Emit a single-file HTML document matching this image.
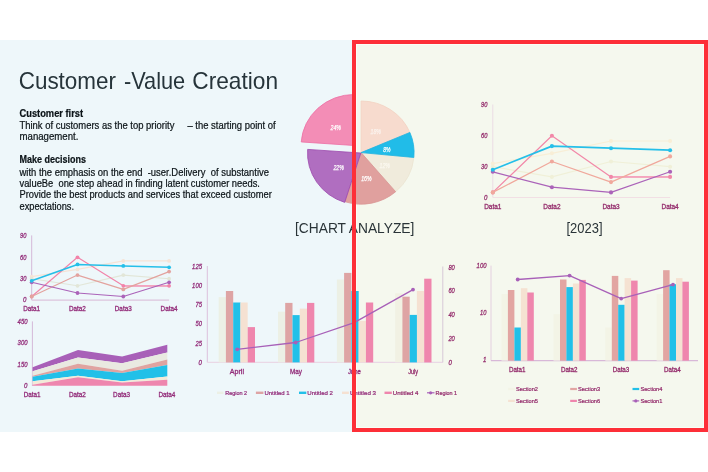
<!DOCTYPE html>
<html><head><meta charset="utf-8"><title>Customer -Value Creation</title>
<style>
html,body{margin:0;padding:0;background:#fff;}
body{width:708px;height:472px;overflow:hidden;font-family:"Liberation Sans",sans-serif;}
svg{display:block;font-family:"Liberation Sans",sans-serif;will-change:transform;}
</style></head><body>
<svg width="708" height="472" viewBox="0 0 708 472">
<rect x="0" y="0" width="708" height="472" fill="#ffffff"/>
<rect x="0" y="40" width="354" height="392" fill="#eef7fa"/>
<rect x="354" y="42" width="352" height="388" fill="#f5f8ee"/>
<rect x="356.5" y="44.5" width="347" height="383" fill="none" stroke="#fafef6" stroke-width="1"/>
<text x="18.7" y="89.0" font-size="24" fill="#26343a" textLength="97.3" lengthAdjust="spacingAndGlyphs">Customer</text>
<text x="123.9" y="89.0" font-size="24" fill="#26343a" textLength="61.3" lengthAdjust="spacingAndGlyphs">-Value</text>
<text x="192.3" y="89.0" font-size="24" fill="#26343a" textLength="85.8" lengthAdjust="spacingAndGlyphs">Creation</text>
<text x="19.5" y="116.6" font-size="10.6" fill="#0c1418" font-weight="bold" textLength="63.6" lengthAdjust="spacingAndGlyphs" stroke="#0c1418" stroke-width="0.22">Customer first</text>
<text x="19.5" y="129.3" font-size="10.6" fill="#0c1418" textLength="256.2" lengthAdjust="spacingAndGlyphs" xml:space="preserve" stroke="#0c1418" stroke-width="0.22">Think of customers as the top priority &#160;&#160;&#160; – the starting point of</text>
<text x="19.5" y="140.3" font-size="10.6" fill="#0c1418" textLength="58.9" lengthAdjust="spacingAndGlyphs" stroke="#0c1418" stroke-width="0.22">management.</text>
<text x="19.5" y="162.9" font-size="10.6" fill="#0c1418" font-weight="bold" textLength="66.4" lengthAdjust="spacingAndGlyphs" stroke="#0c1418" stroke-width="0.22">Make decisions</text>
<text x="19.5" y="175.5" font-size="10.6" fill="#0c1418" textLength="249.5" lengthAdjust="spacingAndGlyphs" xml:space="preserve" stroke="#0c1418" stroke-width="0.22">with the emphasis on the end &#160;-user.Delivery &#160;of substantive</text>
<text x="19.5" y="187.0" font-size="10.6" fill="#0c1418" textLength="240.4" lengthAdjust="spacingAndGlyphs" xml:space="preserve" stroke="#0c1418" stroke-width="0.22">valueBe &#160;one step ahead in finding latent customer needs.</text>
<text x="19.5" y="198.4" font-size="10.6" fill="#0c1418" textLength="252.3" lengthAdjust="spacingAndGlyphs" stroke="#0c1418" stroke-width="0.22">Provide the best products and services that exceed customer</text>
<text x="19.5" y="209.6" font-size="10.6" fill="#0c1418" textLength="54.5" lengthAdjust="spacingAndGlyphs" stroke="#0c1418" stroke-width="0.22">expectations.</text>
<path d="M361.10,152.60 L361.10,101.00 A53.0,51.6 0 0 1 409.89,132.44 Z" fill="#f7dbce" stroke="#f3d2c2" stroke-width="0.8" stroke-linejoin="round"/>
<path d="M361.10,152.60 L413.86,157.46 A53.0,51.6 0 0 1 395.66,191.72 Z" fill="#f0ebdc" stroke="#ebe5d2" stroke-width="0.8" stroke-linejoin="round"/>
<path d="M361.10,152.60 L395.66,191.72 A53.0,51.6 0 0 1 345.07,201.78 Z" fill="#e0a09e" stroke="#d99694" stroke-width="0.8" stroke-linejoin="round"/>
<path d="M361.10,152.60 L409.89,132.44 A53.0,51.6 0 0 1 413.86,157.46 Z" fill="#21bce8" stroke="#1fb4e2" stroke-width="0.8" stroke-linejoin="round"/>
<path d="M360.80,153.00 L344.68,202.38 A53.3,51.800000000000004 0 0 1 307.63,149.39 Z" fill="#b06ec0" stroke="#9c46ac" stroke-width="0.8" stroke-linejoin="round"/>
<path d="M354.10,145.50 L301.23,141.94 A53.0,51.0 0 0 1 354.10,94.50 Z" fill="#f38db6" stroke="#ee6ea4" stroke-width="0.8" stroke-linejoin="round"/>
<text x="330.6" y="129.7" font-size="6.8" fill="#ffffff" font-style="italic" textLength="10.4" lengthAdjust="spacingAndGlyphs" stroke="#ffffff" stroke-width="0.25">24%</text>
<text x="370.6" y="133.9" font-size="6.8" fill="#fbf3ee" font-style="italic" textLength="10.4" lengthAdjust="spacingAndGlyphs" stroke="#fbf3ee" stroke-width="0.25">18%</text>
<text x="383.2" y="151.7" font-size="6.8" fill="#ffffff" font-style="italic" textLength="7.4" lengthAdjust="spacingAndGlyphs" stroke="#ffffff" stroke-width="0.25">8%</text>
<text x="379.5" y="167.8" font-size="6.8" fill="#fbf8f0" font-style="italic" textLength="10.4" lengthAdjust="spacingAndGlyphs" stroke="#fbf8f0" stroke-width="0.25">12%</text>
<text x="361.2" y="181.4" font-size="6.8" fill="#ffffff" font-style="italic" textLength="10.4" lengthAdjust="spacingAndGlyphs" stroke="#ffffff" stroke-width="0.25">16%</text>
<text x="333.4" y="170.0" font-size="6.8" fill="#ffffff" font-style="italic" textLength="10.4" lengthAdjust="spacingAndGlyphs" stroke="#ffffff" stroke-width="0.25">22%</text>
<text x="295.0" y="233.0" font-size="15" fill="#2a3438" textLength="119.3" lengthAdjust="spacingAndGlyphs">[CHART ANALYZE]</text>
<text x="566.5" y="233.0" font-size="15" fill="#2a3438" textLength="36.0" lengthAdjust="spacingAndGlyphs">[2023]</text>
<line x1="31.7" y1="235.4" x2="31.7" y2="300.1" stroke="#d4b8d8" stroke-width="1"/>
<line x1="31.7" y1="300.1" x2="169.1" y2="300.1" stroke="#dcc4dc" stroke-width="1.3"/>
<polyline points="31.7,276.6 77.5,269.4 123.3,260.9 169.1,260.9" fill="none" stroke="#f5e3d6" stroke-width="1.15" stroke-linejoin="round"/>
<circle cx="31.7" cy="276.6" r="1.9" fill="#f5e3d6"/>
<circle cx="77.5" cy="269.4" r="1.9" fill="#f5e3d6"/>
<circle cx="123.3" cy="260.9" r="1.9" fill="#f5e3d6"/>
<circle cx="169.1" cy="260.9" r="1.9" fill="#f5e3d6"/>
<polyline points="31.7,278.7 77.5,285.8 123.3,275.1 169.1,278.7" fill="none" stroke="#e2e6d8" stroke-width="1.15" stroke-linejoin="round"/>
<circle cx="31.7" cy="278.7" r="1.9" fill="#e2e6d8"/>
<circle cx="77.5" cy="285.8" r="1.9" fill="#e2e6d8"/>
<circle cx="123.3" cy="275.1" r="1.9" fill="#e2e6d8"/>
<circle cx="169.1" cy="278.7" r="1.9" fill="#e2e6d8"/>
<polyline points="31.7,296.5 77.5,257.3 123.3,285.8 169.1,285.8" fill="none" stroke="#f283a9" stroke-width="1.15" stroke-linejoin="round"/>
<line x1="123.3" y1="285.8" x2="169.1" y2="285.8" stroke="#f3a4c0" stroke-width="1.72"/>
<circle cx="31.7" cy="296.5" r="1.9" fill="#f283a9"/>
<circle cx="77.5" cy="257.3" r="1.9" fill="#f283a9"/>
<circle cx="123.3" cy="285.8" r="1.9" fill="#f283a9"/>
<circle cx="169.1" cy="285.8" r="1.9" fill="#f283a9"/>
<polyline points="31.7,296.5 77.5,275.1 123.3,289.4 169.1,271.6" fill="none" stroke="#e3a29e" stroke-width="1.15" stroke-linejoin="round"/>
<circle cx="31.7" cy="296.5" r="1.9" fill="#e3a29e"/>
<circle cx="77.5" cy="275.1" r="1.9" fill="#e3a29e"/>
<circle cx="123.3" cy="289.4" r="1.9" fill="#e3a29e"/>
<circle cx="169.1" cy="271.6" r="1.9" fill="#e3a29e"/>
<polyline points="31.7,282.3 77.5,293.0 123.3,296.5 169.1,282.3" fill="none" stroke="#ab63b9" stroke-width="1.15" stroke-linejoin="round"/>
<circle cx="31.7" cy="282.3" r="1.9" fill="#ab63b9"/>
<circle cx="77.5" cy="293.0" r="1.9" fill="#ab63b9"/>
<circle cx="123.3" cy="296.5" r="1.9" fill="#ab63b9"/>
<circle cx="169.1" cy="282.3" r="1.9" fill="#ab63b9"/>
<polyline points="31.7,280.8 77.5,264.4 123.3,265.9 169.1,267.3" fill="none" stroke="#25bfe9" stroke-width="1.55" stroke-linejoin="round"/>
<circle cx="31.7" cy="280.8" r="1.9" fill="#25bfe9"/>
<circle cx="77.5" cy="264.4" r="1.9" fill="#25bfe9"/>
<circle cx="123.3" cy="265.9" r="1.9" fill="#25bfe9"/>
<circle cx="169.1" cy="267.3" r="1.9" fill="#25bfe9"/>
<text x="23.1" y="302.3" font-size="7" fill="#922a78" font-style="italic" textLength="3.4" lengthAdjust="spacingAndGlyphs" stroke="#922a78" stroke-width="0.28">0</text>
<text x="20.1" y="280.9" font-size="7" fill="#922a78" font-style="italic" textLength="6.4" lengthAdjust="spacingAndGlyphs" stroke="#922a78" stroke-width="0.28">30</text>
<text x="20.1" y="259.5" font-size="7" fill="#922a78" font-style="italic" textLength="6.4" lengthAdjust="spacingAndGlyphs" stroke="#922a78" stroke-width="0.28">60</text>
<text x="20.1" y="238.1" font-size="7" fill="#922a78" font-style="italic" textLength="6.4" lengthAdjust="spacingAndGlyphs" stroke="#922a78" stroke-width="0.28">90</text>
<text x="23.2" y="311.2" font-size="7.3" fill="#922a78" textLength="16.9" lengthAdjust="spacingAndGlyphs" stroke="#922a78" stroke-width="0.3">Data1</text>
<text x="69.0" y="311.2" font-size="7.3" fill="#922a78" textLength="16.9" lengthAdjust="spacingAndGlyphs" stroke="#922a78" stroke-width="0.3">Data2</text>
<text x="114.8" y="311.2" font-size="7.3" fill="#922a78" textLength="16.9" lengthAdjust="spacingAndGlyphs" stroke="#922a78" stroke-width="0.3">Data3</text>
<text x="160.6" y="311.2" font-size="7.3" fill="#922a78" textLength="16.9" lengthAdjust="spacingAndGlyphs" stroke="#922a78" stroke-width="0.3">Data4</text>
<line x1="492.8" y1="104.5" x2="492.8" y2="197.5" stroke="#ecdce4" stroke-width="1"/>
<line x1="492.8" y1="197.5" x2="670.1" y2="197.5" stroke="#f2dfe4" stroke-width="1.2"/>
<polyline points="492.8,163.6 551.9,153.3 611.0,141.0 670.1,141.0" fill="none" stroke="#f8eed6" stroke-width="1.2" stroke-linejoin="round"/>
<circle cx="492.8" cy="163.6" r="2.05" fill="#f8eed6"/>
<circle cx="551.9" cy="153.3" r="2.05" fill="#f8eed6"/>
<circle cx="611.0" cy="141.0" r="2.05" fill="#f8eed6"/>
<circle cx="670.1" cy="141.0" r="2.05" fill="#f8eed6"/>
<polyline points="492.8,166.7 551.9,176.9 611.0,161.5 670.1,166.7" fill="none" stroke="#f0f0d8" stroke-width="1.2" stroke-linejoin="round"/>
<circle cx="492.8" cy="166.7" r="2.05" fill="#f0f0d8"/>
<circle cx="551.9" cy="176.9" r="2.05" fill="#f0f0d8"/>
<circle cx="611.0" cy="161.5" r="2.05" fill="#f0f0d8"/>
<circle cx="670.1" cy="166.7" r="2.05" fill="#f0f0d8"/>
<polyline points="492.8,192.4 551.9,135.8 611.0,176.9 670.1,176.9" fill="none" stroke="#f288a8" stroke-width="1.2" stroke-linejoin="round"/>
<line x1="611.0" y1="176.9" x2="670.1" y2="176.9" stroke="#f4a4be" stroke-width="1.80"/>
<circle cx="492.8" cy="192.4" r="2.05" fill="#f288a8"/>
<circle cx="551.9" cy="135.8" r="2.05" fill="#f288a8"/>
<circle cx="611.0" cy="176.9" r="2.05" fill="#f288a8"/>
<circle cx="670.1" cy="176.9" r="2.05" fill="#f288a8"/>
<polyline points="492.8,192.4 551.9,161.5 611.0,182.1 670.1,156.4" fill="none" stroke="#f0a89c" stroke-width="1.2" stroke-linejoin="round"/>
<circle cx="492.8" cy="192.4" r="2.05" fill="#f0a89c"/>
<circle cx="551.9" cy="161.5" r="2.05" fill="#f0a89c"/>
<circle cx="611.0" cy="182.1" r="2.05" fill="#f0a89c"/>
<circle cx="670.1" cy="156.4" r="2.05" fill="#f0a89c"/>
<polyline points="492.8,171.8 551.9,187.2 611.0,192.4 670.1,171.8" fill="none" stroke="#ab63b9" stroke-width="1.2" stroke-linejoin="round"/>
<circle cx="492.8" cy="171.8" r="2.05" fill="#ab63b9"/>
<circle cx="551.9" cy="187.2" r="2.05" fill="#ab63b9"/>
<circle cx="611.0" cy="192.4" r="2.05" fill="#ab63b9"/>
<circle cx="670.1" cy="171.8" r="2.05" fill="#ab63b9"/>
<polyline points="492.8,169.7 551.9,146.1 611.0,148.2 670.1,150.2" fill="none" stroke="#25bfe9" stroke-width="1.7" stroke-linejoin="round"/>
<circle cx="492.8" cy="169.7" r="2.05" fill="#25bfe9"/>
<circle cx="551.9" cy="146.1" r="2.05" fill="#25bfe9"/>
<circle cx="611.0" cy="148.2" r="2.05" fill="#25bfe9"/>
<circle cx="670.1" cy="150.2" r="2.05" fill="#25bfe9"/>
<text x="484.0" y="199.7" font-size="7" fill="#942c6c" font-style="italic" textLength="3.4" lengthAdjust="spacingAndGlyphs" stroke="#942c6c" stroke-width="0.28">0</text>
<text x="481.0" y="168.9" font-size="7" fill="#942c6c" font-style="italic" textLength="6.4" lengthAdjust="spacingAndGlyphs" stroke="#942c6c" stroke-width="0.28">30</text>
<text x="481.0" y="138.0" font-size="7" fill="#942c6c" font-style="italic" textLength="6.4" lengthAdjust="spacingAndGlyphs" stroke="#942c6c" stroke-width="0.28">60</text>
<text x="481.0" y="107.2" font-size="7" fill="#942c6c" font-style="italic" textLength="6.4" lengthAdjust="spacingAndGlyphs" stroke="#942c6c" stroke-width="0.28">90</text>
<text x="484.2" y="208.9" font-size="7.3" fill="#942c6c" textLength="17.2" lengthAdjust="spacingAndGlyphs" stroke="#942c6c" stroke-width="0.3">Data1</text>
<text x="543.3" y="208.9" font-size="7.3" fill="#942c6c" textLength="17.2" lengthAdjust="spacingAndGlyphs" stroke="#942c6c" stroke-width="0.3">Data2</text>
<text x="602.4" y="208.9" font-size="7.3" fill="#942c6c" textLength="17.2" lengthAdjust="spacingAndGlyphs" stroke="#942c6c" stroke-width="0.3">Data3</text>
<text x="661.5" y="208.9" font-size="7.3" fill="#942c6c" textLength="17.2" lengthAdjust="spacingAndGlyphs" stroke="#942c6c" stroke-width="0.3">Data4</text>
<line x1="32.4" y1="321.4" x2="32.4" y2="386" stroke="#d4b8d8" stroke-width="1"/>
<polygon points="32.6,367.3 78.0,350.1 122.1,356.5 167.3,344.7 167.3,352.6 122.1,363.2 78.0,357.6 32.6,371.2" fill="#a860b8"/>
<polygon points="32.6,371.2 78.0,357.6 122.1,363.2 167.3,352.6 167.3,359.4 122.1,370.7 78.0,363.7 32.6,375.7" fill="#e9e9e1"/>
<polygon points="32.6,375.7 78.0,363.7 122.1,370.7 167.3,359.4 167.3,365.1 122.1,373.0 78.0,368.4 32.6,376.8" fill="#e0a3a0"/>
<polygon points="32.6,376.8 78.0,368.4 122.1,373.0 167.3,365.1 167.3,376.4 122.1,381.3 78.0,375.7 32.6,381.3" fill="#22c0e8"/>
<polygon points="32.6,381.3 78.0,375.7 122.1,381.3 167.3,376.4 167.3,379.7 122.1,382.5 78.0,377.3 32.6,384.7" fill="#f3ead8"/>
<polygon points="32.6,384.7 78.0,377.3 122.1,382.5 167.3,379.7 167.3,385.8 122.1,385.8 78.0,385.8 32.6,385.8" fill="#ee86ae"/>
<text x="24.1" y="388.0" font-size="7" fill="#922a78" font-style="italic" textLength="3.4" lengthAdjust="spacingAndGlyphs" stroke="#922a78" stroke-width="0.28">0</text>
<text x="17.6" y="366.5" font-size="7" fill="#922a78" font-style="italic" textLength="9.9" lengthAdjust="spacingAndGlyphs" stroke="#922a78" stroke-width="0.28">150</text>
<text x="17.6" y="345.1" font-size="7" fill="#922a78" font-style="italic" textLength="9.9" lengthAdjust="spacingAndGlyphs" stroke="#922a78" stroke-width="0.28">300</text>
<text x="17.6" y="323.6" font-size="7" fill="#922a78" font-style="italic" textLength="9.9" lengthAdjust="spacingAndGlyphs" stroke="#922a78" stroke-width="0.28">450</text>
<text x="23.7" y="396.8" font-size="7.3" fill="#922a78" textLength="16.9" lengthAdjust="spacingAndGlyphs" stroke="#922a78" stroke-width="0.3">Data1</text>
<text x="69.0" y="396.8" font-size="7.3" fill="#922a78" textLength="16.9" lengthAdjust="spacingAndGlyphs" stroke="#922a78" stroke-width="0.3">Data2</text>
<text x="113.1" y="396.8" font-size="7.3" fill="#922a78" textLength="16.9" lengthAdjust="spacingAndGlyphs" stroke="#922a78" stroke-width="0.3">Data3</text>
<text x="158.4" y="396.8" font-size="7.3" fill="#922a78" textLength="16.9" lengthAdjust="spacingAndGlyphs" stroke="#922a78" stroke-width="0.3">Data4</text>
<line x1="207.3" y1="266" x2="207.3" y2="362.4" stroke="#dcc0dc" stroke-width="1"/>
<line x1="207.3" y1="362.4" x2="442.8" y2="362.4" stroke="#ead8e6" stroke-width="1.2"/>
<line x1="442.8" y1="266.5" x2="442.8" y2="362.4" stroke="#d8c8d8" stroke-width="1"/>
<rect x="218.7" y="297.1" width="7.3" height="65.3" fill="#ecf0e5"/>
<rect x="225.9" y="291.0" width="7.3" height="71.4" fill="#dea4a4"/>
<rect x="233.2" y="302.5" width="7.3" height="59.9" fill="#22c0e8"/>
<rect x="240.4" y="302.5" width="7.3" height="59.9" fill="#f5e1d2"/>
<rect x="247.7" y="327.1" width="7.3" height="35.3" fill="#ef86ad"/>
<rect x="278.0" y="311.7" width="7.3" height="50.7" fill="#ecf0e5"/>
<rect x="285.2" y="302.9" width="7.3" height="59.5" fill="#dea4a4"/>
<rect x="292.5" y="315.1" width="7.3" height="47.3" fill="#22c0e8"/>
<rect x="299.8" y="308.6" width="7.3" height="53.8" fill="#f5e1d2"/>
<rect x="307.0" y="302.9" width="7.3" height="59.5" fill="#ef86ad"/>
<rect x="336.9" y="279.5" width="7.3" height="82.9" fill="#ecf0e5"/>
<rect x="344.1" y="272.9" width="7.3" height="89.5" fill="#dea4a4"/>
<rect x="351.4" y="291.0" width="7.3" height="71.4" fill="#22c0e8"/>
<rect x="358.6" y="320.9" width="7.3" height="41.5" fill="#f5e1d2"/>
<rect x="365.9" y="302.5" width="7.3" height="59.9" fill="#ef86ad"/>
<rect x="395.2" y="293.3" width="7.3" height="69.1" fill="#f1f1e3"/>
<rect x="402.4" y="296.7" width="7.3" height="65.7" fill="#dea4a4"/>
<rect x="409.7" y="314.9" width="7.3" height="47.5" fill="#22c0e8"/>
<rect x="416.9" y="291.0" width="7.3" height="71.4" fill="#f5e1d2"/>
<rect x="424.2" y="278.7" width="7.3" height="83.7" fill="#ef86ad"/>
<polyline points="237.2,349.3 295.7,342.5 354.2,322.6 413,289.6" fill="none" stroke="#a860b8" stroke-width="1.3" stroke-linejoin="round"/>
<circle cx="237.2" cy="349.3" r="1.9" fill="#a860b8"/>
<circle cx="295.7" cy="342.5" r="1.9" fill="#a860b8"/>
<circle cx="354.2" cy="322.6" r="1.9" fill="#a860b8"/>
<circle cx="413" cy="289.6" r="1.9" fill="#a860b8"/>
<text x="198.6" y="364.7" font-size="7" fill="#922a78" font-style="italic" textLength="3.4" lengthAdjust="spacingAndGlyphs" stroke="#922a78" stroke-width="0.28">0</text>
<text x="195.6" y="345.5" font-size="7" fill="#922a78" font-style="italic" textLength="6.4" lengthAdjust="spacingAndGlyphs" stroke="#922a78" stroke-width="0.28">25</text>
<text x="195.6" y="326.3" font-size="7" fill="#922a78" font-style="italic" textLength="6.4" lengthAdjust="spacingAndGlyphs" stroke="#922a78" stroke-width="0.28">50</text>
<text x="195.6" y="307.1" font-size="7" fill="#922a78" font-style="italic" textLength="6.4" lengthAdjust="spacingAndGlyphs" stroke="#922a78" stroke-width="0.28">75</text>
<text x="192.1" y="287.9" font-size="7" fill="#922a78" font-style="italic" textLength="9.9" lengthAdjust="spacingAndGlyphs" stroke="#922a78" stroke-width="0.28">100</text>
<text x="192.1" y="268.7" font-size="7" fill="#922a78" font-style="italic" textLength="9.9" lengthAdjust="spacingAndGlyphs" stroke="#922a78" stroke-width="0.28">125</text>
<text x="448.4" y="364.7" font-size="7" fill="#942c6c" font-style="italic" textLength="3.4" lengthAdjust="spacingAndGlyphs" stroke="#942c6c" stroke-width="0.28">0</text>
<text x="448.4" y="340.9" font-size="7" fill="#942c6c" font-style="italic" textLength="6.4" lengthAdjust="spacingAndGlyphs" stroke="#942c6c" stroke-width="0.28">20</text>
<text x="448.4" y="317.1" font-size="7" fill="#942c6c" font-style="italic" textLength="6.4" lengthAdjust="spacingAndGlyphs" stroke="#942c6c" stroke-width="0.28">40</text>
<text x="448.4" y="293.3" font-size="7" fill="#942c6c" font-style="italic" textLength="6.4" lengthAdjust="spacingAndGlyphs" stroke="#942c6c" stroke-width="0.28">60</text>
<text x="448.4" y="269.5" font-size="7" fill="#942c6c" font-style="italic" textLength="6.4" lengthAdjust="spacingAndGlyphs" stroke="#942c6c" stroke-width="0.28">80</text>
<text x="229.8" y="373.9" font-size="7.3" fill="#922a78" textLength="14.2" lengthAdjust="spacingAndGlyphs" stroke="#922a78" stroke-width="0.3">April</text>
<text x="290.1" y="373.9" font-size="7.3" fill="#922a78" textLength="11.9" lengthAdjust="spacingAndGlyphs" stroke="#922a78" stroke-width="0.3">May</text>
<text x="347.9" y="373.9" font-size="7.3" fill="#922a78" textLength="12.9" lengthAdjust="spacingAndGlyphs" stroke="#922a78" stroke-width="0.3">June</text>
<text x="408.2" y="373.9" font-size="7.3" fill="#942c6c" textLength="9.9" lengthAdjust="spacingAndGlyphs" stroke="#942c6c" stroke-width="0.3">July</text>
<rect x="217" y="391.6" width="6.4" height="2.4" fill="#ecf0e5"/>
<text x="225.2" y="394.7" font-size="6.1" fill="#922a78" textLength="22.0" lengthAdjust="spacingAndGlyphs" stroke="#922a78" stroke-width="0.22">Region 2</text>
<rect x="255.9" y="391.6" width="7.5" height="2.4" fill="#dea4a4"/>
<text x="264.4" y="394.7" font-size="6.1" fill="#922a78" textLength="25.3" lengthAdjust="spacingAndGlyphs" stroke="#922a78" stroke-width="0.22">Untitled 1</text>
<rect x="299" y="391.6" width="7.3" height="2.4" fill="#22c0e8"/>
<text x="307.3" y="394.7" font-size="6.1" fill="#922a78" textLength="25.7" lengthAdjust="spacingAndGlyphs" stroke="#922a78" stroke-width="0.22">Untitled 2</text>
<rect x="342" y="391.6" width="6.9" height="2.4" fill="#f5e1d2"/>
<text x="349.9" y="394.7" font-size="6.1" fill="#922a78" textLength="26.1" lengthAdjust="spacingAndGlyphs" stroke="#922a78" stroke-width="0.22">Untitled 3</text>
<rect x="384.5" y="391.6" width="7.3" height="2.4" fill="#ef86ad"/>
<text x="392.8" y="394.7" font-size="6.1" fill="#942c6c" textLength="25.7" lengthAdjust="spacingAndGlyphs" stroke="#942c6c" stroke-width="0.22">Untitled 4</text>
<line x1="427" y1="392.8" x2="434.5" y2="392.8" stroke="#a860b8" stroke-width="1.2"/><circle cx="430.6" cy="392.8" r="1.6" fill="#a860b8"/>
<text x="435.5" y="394.7" font-size="6.1" fill="#942c6c" textLength="21.6" lengthAdjust="spacingAndGlyphs" stroke="#942c6c" stroke-width="0.22">Region 1</text>
<line x1="491" y1="265.6" x2="491" y2="360.6" stroke="#e4d0e0" stroke-width="1"/>
<line x1="491" y1="360.6" x2="698" y2="360.6" stroke="#d8b8d8" stroke-width="1.1"/>
<rect x="501.5" y="294.0" width="6.5" height="66.6" fill="#f3f4e6"/>
<rect x="507.9" y="290.0" width="6.5" height="70.6" fill="#e2a5a2"/>
<rect x="514.4" y="327.5" width="6.5" height="33.1" fill="#22c0e8"/>
<rect x="520.9" y="288.2" width="6.5" height="72.4" fill="#f5e2d2"/>
<rect x="527.3" y="292.5" width="6.5" height="68.1" fill="#ef86ad"/>
<rect x="553.5" y="314.1" width="6.5" height="46.5" fill="#f3f4e6"/>
<rect x="560.0" y="279.5" width="6.5" height="81.1" fill="#e2a5a2"/>
<rect x="566.4" y="287.1" width="6.5" height="73.5" fill="#22c0e8"/>
<rect x="572.9" y="283.5" width="6.5" height="77.1" fill="#f5e2d2"/>
<rect x="579.3" y="279.9" width="6.5" height="80.7" fill="#ef86ad"/>
<rect x="605.3" y="327.5" width="6.5" height="33.1" fill="#f3f4e6"/>
<rect x="611.8" y="275.9" width="6.5" height="84.7" fill="#e2a5a2"/>
<rect x="618.2" y="304.8" width="6.5" height="55.8" fill="#22c0e8"/>
<rect x="624.6" y="278.1" width="6.5" height="82.5" fill="#f5e2d2"/>
<rect x="631.1" y="280.6" width="6.5" height="80.0" fill="#ef86ad"/>
<rect x="656.6" y="294.0" width="6.5" height="66.6" fill="#f3f4e6"/>
<rect x="663.1" y="270.2" width="6.5" height="90.4" fill="#e2a5a2"/>
<rect x="669.5" y="284.2" width="6.5" height="76.4" fill="#22c0e8"/>
<rect x="676.0" y="278.1" width="6.5" height="82.5" fill="#f5e2d2"/>
<rect x="682.4" y="281.7" width="6.5" height="78.9" fill="#ef86ad"/>
<polyline points="517.7,279.5 569.6,275.6 621.2,298.6 673,284.6" fill="none" stroke="#a860b8" stroke-width="1.3" stroke-linejoin="round"/>
<circle cx="517.7" cy="279.5" r="1.9" fill="#a860b8"/>
<circle cx="569.6" cy="275.6" r="1.9" fill="#a860b8"/>
<circle cx="621.2" cy="298.6" r="1.9" fill="#a860b8"/>
<circle cx="673" cy="284.6" r="1.9" fill="#a860b8"/>
<text x="483.1" y="362.3" font-size="7" fill="#942c6c" font-style="italic" textLength="3.4" lengthAdjust="spacingAndGlyphs" stroke="#942c6c" stroke-width="0.28">1</text>
<text x="480.1" y="315.1" font-size="7" fill="#942c6c" font-style="italic" textLength="6.4" lengthAdjust="spacingAndGlyphs" stroke="#942c6c" stroke-width="0.28">10</text>
<text x="476.6" y="267.9" font-size="7" fill="#942c6c" font-style="italic" textLength="9.9" lengthAdjust="spacingAndGlyphs" stroke="#942c6c" stroke-width="0.28">100</text>
<text x="508.9" y="371.7" font-size="7.3" fill="#942c6c" textLength="16.6" lengthAdjust="spacingAndGlyphs" stroke="#942c6c" stroke-width="0.3">Data1</text>
<text x="560.9" y="371.7" font-size="7.3" fill="#942c6c" textLength="16.6" lengthAdjust="spacingAndGlyphs" stroke="#942c6c" stroke-width="0.3">Data2</text>
<text x="612.7" y="371.7" font-size="7.3" fill="#942c6c" textLength="16.6" lengthAdjust="spacingAndGlyphs" stroke="#942c6c" stroke-width="0.3">Data3</text>
<text x="664.0" y="371.7" font-size="7.3" fill="#942c6c" textLength="16.6" lengthAdjust="spacingAndGlyphs" stroke="#942c6c" stroke-width="0.3">Data4</text>
<rect x="508.1" y="387.9" width="6.7" height="2.2" fill="#f3f4e6"/>
<text x="516.0" y="391.0" font-size="6.1" fill="#942c6c" textLength="22.0" lengthAdjust="spacingAndGlyphs" stroke="#942c6c" stroke-width="0.22">Section2</text>
<rect x="570.2" y="387.9" width="6.7" height="2.2" fill="#e2a5a2"/>
<text x="578.1" y="391.0" font-size="6.1" fill="#942c6c" textLength="22.0" lengthAdjust="spacingAndGlyphs" stroke="#942c6c" stroke-width="0.22">Section3</text>
<rect x="632.5" y="387.9" width="6.7" height="2.2" fill="#22c0e8"/>
<text x="640.4" y="391.0" font-size="6.1" fill="#942c6c" textLength="22.0" lengthAdjust="spacingAndGlyphs" stroke="#942c6c" stroke-width="0.22">Section4</text>
<rect x="508.1" y="399.8" width="6.7" height="2.2" fill="#f5e2d2"/>
<text x="516.0" y="403.0" font-size="6.1" fill="#942c6c" textLength="22.0" lengthAdjust="spacingAndGlyphs" stroke="#942c6c" stroke-width="0.22">Section5</text>
<rect x="570.2" y="399.8" width="6.7" height="2.2" fill="#ef86ad"/>
<text x="578.1" y="403.0" font-size="6.1" fill="#942c6c" textLength="22.0" lengthAdjust="spacingAndGlyphs" stroke="#942c6c" stroke-width="0.22">Section6</text>
<line x1="632.5" y1="400.9" x2="639.2" y2="400.9" stroke="#a860b8" stroke-width="1.2"/><circle cx="635.8" cy="400.9" r="1.6" fill="#a860b8"/>
<text x="640.4" y="403.0" font-size="6.1" fill="#942c6c" textLength="22.0" lengthAdjust="spacingAndGlyphs" stroke="#942c6c" stroke-width="0.22">Section1</text>
<rect x="354" y="42" width="352" height="388" fill="none" stroke="#fd2f38" stroke-width="4"/>
</svg>
</body></html>
